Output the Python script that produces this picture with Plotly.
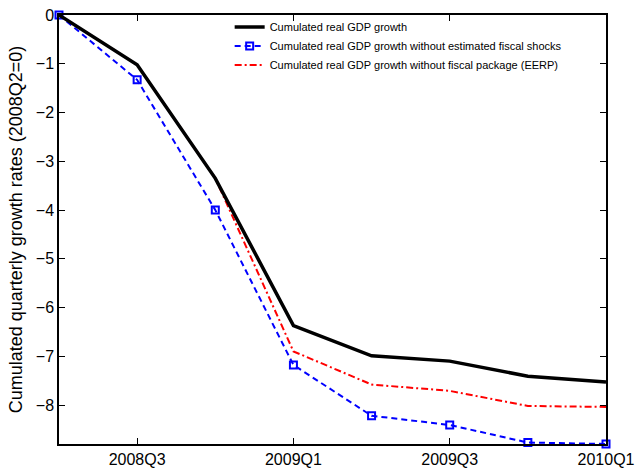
import plotly.graph_objects as go

quarters = ["2008Q2", "2008Q3", "2008Q4", "2009Q1", "2009Q2", "2009Q3", "2009Q4", "2010Q1"]
gdp = [0, -1.02, -3.35, -6.37, -6.99, -7.10, -7.41, -7.53]
gdp_no_shocks = [0, -1.33, -4.00, -7.18, -8.22, -8.41, -8.77, -8.80]
gdp_no_eerp = [0, -1.02, -3.35, -6.90, -7.58, -7.71, -8.02, -8.04]
xtick_labels = ["2008Q3", "2009Q1", "2009Q3", "2010Q1"]
ytick_vals = [0, -1, -2, -3, -4, -5, -6, -7, -8]

font = "Liberation Sans, Arial, sans-serif"

fig = go.Figure()
fig.add_trace(go.Scatter(x=quarters, y=gdp_no_eerp, mode="lines",
                         line=dict(color="#ff0000", width=2, dash="7px,3px,2px,3px"),
                         name="Cumulated real GDP growth without fiscal package (EERP)"))
fig.add_trace(go.Scatter(x=quarters, y=gdp_no_shocks, mode="lines+markers", cliponaxis=False,
                         line=dict(color="#0000ff", width=2, dash="6px,4px"),
                         marker=dict(symbol="square-open", size=7, color="#0000ff", line=dict(width=2)),
                         name="Cumulated real GDP growth without estimated fiscal shocks"))
fig.add_trace(go.Scatter(x=quarters, y=gdp, mode="lines",
                         line=dict(color="black", width=3.5),
                         name="Cumulated real GDP growth"))

fig.update_layout(
    width=641, height=471,
    margin=dict(l=59, r=35, t=13, b=27),
    plot_bgcolor="white", paper_bgcolor="white",
    font=dict(family=font, size=16, color="black"),
    showlegend=True,
    legend=dict(x=0.312, y=1.006, xanchor="left", yanchor="top",
                bgcolor="rgba(0,0,0,0)", font=dict(size=11, family=font),
                traceorder="reversed", tracegroupgap=0, itemwidth=30),
    xaxis=dict(type="category", categoryorder="array", categoryarray=quarters,
               range=[0, 7], tickmode="array", tickvals=xtick_labels, ticktext=xtick_labels,
               ticks="inside", ticklen=6, tickcolor="black", showline=True, linecolor="black",
               linewidth=1.5, mirror="ticks", showgrid=False, zeroline=False,
               tickfont=dict(size=16), automargin=False),
    yaxis=dict(range=[-8.8, 0], tickmode="array", tickvals=ytick_vals,
               ticktext=["0" if v == 0 else "\u2212%d" % (-v) for v in ytick_vals],
               ticks="inside", ticklen=6, tickcolor="black", showline=True, linecolor="black",
               linewidth=1.5, mirror="ticks", showgrid=False, zeroline=False,
               tickfont=dict(size=16), automargin=False,
               title=dict(text="Cumulated quarterly growth rates (2008Q2=0)", font=dict(size=18), standoff=8)),
)
fig.write_html("out.html", config={"displayModeBar": False},
               post_script="document.body.style.margin='0px';")
